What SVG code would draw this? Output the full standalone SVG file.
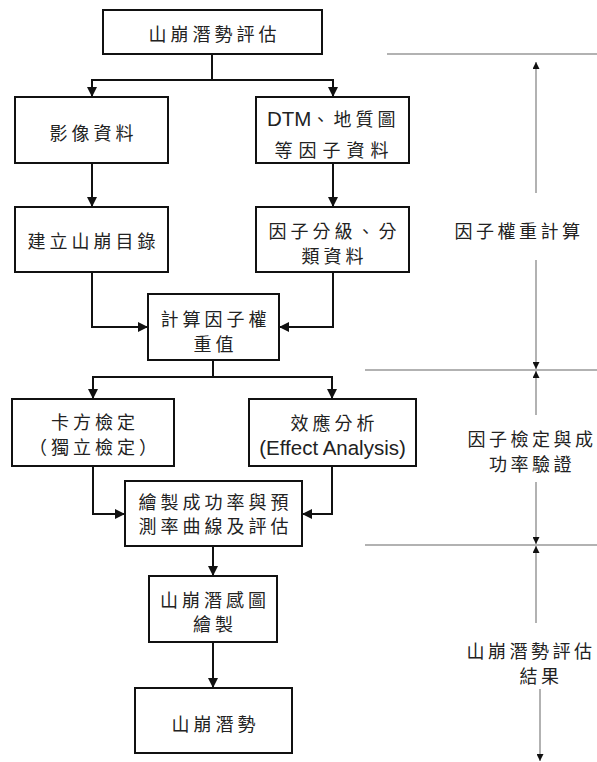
<svg xmlns="http://www.w3.org/2000/svg" width="597" height="762" viewBox="0 0 597 762">
<style>
.box{fill:#fff;stroke:#111;stroke-width:2}
.t{font-family:"Noto Sans CJK TC","Noto Sans CJK SC",sans-serif;font-size:18px;fill:#222;text-anchor:middle;dominant-baseline:central;letter-spacing:4px}
.lat{font-family:"Liberation Sans",Arial,sans-serif;font-size:20.5px;letter-spacing:0}
.c{fill:none;stroke:#111;stroke-width:2}
.g{fill:none;stroke:#999;stroke-width:1.5}
</style>
<defs>
<marker id="a" viewBox="0 0 10 10" refX="10" refY="5" markerWidth="11" markerHeight="10" markerUnits="userSpaceOnUse" orient="auto"><path d="M0 0L10 5L0 10z" fill="#111"/></marker>
<marker id="s" viewBox="0 0 10 10" refX="10" refY="5" markerWidth="9" markerHeight="7" markerUnits="userSpaceOnUse" orient="auto"><path d="M0 0L10 5L0 10z" fill="#111"/></marker>
</defs>
<g id="connectors">
<path class="c" d="M212 54V80H92V97" marker-end="url(#a)"/>
<path class="c" d="M212 80H333V97" marker-end="url(#a)"/>
<path class="c" d="M92 163V207" marker-end="url(#a)"/>
<path class="c" d="M333 163V207" marker-end="url(#a)"/>
<path class="c" d="M92 272V327H148" marker-end="url(#a)"/>
<path class="c" d="M333 272V327H279" marker-end="url(#a)"/>
<path class="c" d="M213 360V377H93V399" marker-end="url(#a)"/>
<path class="c" d="M213 377H332V399" marker-end="url(#a)"/>
<path class="c" d="M93 466V514H125" marker-end="url(#a)"/>
<path class="c" d="M332 466V514H302" marker-end="url(#a)"/>
<path class="c" d="M213 546V576" marker-end="url(#a)"/>
<path class="c" d="M213 642V688" marker-end="url(#a)"/>
</g>
<g id="n1"><rect class="box" x="103" y="10" width="219" height="44"/><text class="t" x="214.5" y="33">山崩潛勢評估</text></g>
<g id="n2"><rect class="box" x="15" y="97" width="153" height="66"/><text class="t" x="93.5" y="132">影像資料</text></g>
<g id="n3"><rect class="box" x="256" y="97" width="153" height="66"/><text class="t" x="267" y="118" style="text-anchor:start"><tspan class="lat">DTM</tspan>、地質圖</text><text class="t" x="334.5" y="149" style="letter-spacing:6px">等因子資料</text></g>
<g id="n4"><rect class="box" x="15" y="207" width="153" height="65"/><text class="t" x="93.5" y="240">建立山崩目錄</text></g>
<g id="n5"><rect class="box" x="256" y="207" width="153" height="65"/><text class="t" x="334.5" y="229.5">因子分級、分</text><text class="t" x="334.5" y="255">類資料</text></g>
<g id="n6"><rect class="box" x="148" y="294" width="131" height="66"/><text class="t" x="215.5" y="318">計算因子權</text><text class="t" x="215.5" y="343">重值</text></g>
<g id="n7"><rect class="box" x="12" y="399" width="162" height="67"/><text class="t" x="95" y="421">卡方檢定</text><text class="t" x="95" y="446">（獨立檢定）</text></g>
<g id="n8"><rect class="box" x="249" y="399" width="167" height="67"/><text class="t" x="334.5" y="422">效應分析</text><text class="t lat" x="332.5" y="447">(Effect Analysis)</text></g>
<g id="n9"><rect class="box" x="125" y="481" width="177" height="65"/><text class="t" x="215.5" y="501">繪製成功率與預</text><text class="t" x="215.5" y="525">測率曲線及評估</text></g>
<g id="n10"><rect class="box" x="149" y="576" width="128" height="66"/><text class="t" x="215" y="599">山崩潛感圖</text><text class="t" x="215" y="623">繪製</text></g>
<g id="n11"><rect class="box" x="135" y="688" width="157" height="65"/><text class="t" x="215.5" y="723">山崩潛勢</text></g>
<g id="stages">
<path class="g" d="M387 54H597M365 370H597M365 545H597"/>
<path class="g" d="M536 193V62" marker-end="url(#s)"/>
<path class="g" d="M536 260V369" marker-end="url(#s)"/>
<path class="g" d="M536 415V371" marker-end="url(#s)"/>
<path class="g" d="M536 482V544" marker-end="url(#s)"/>
<path class="g" d="M536 623V546" marker-end="url(#s)"/>
<path class="g" d="M540 689V761" marker-end="url(#s)"/>
<text class="t" x="519" y="230" style="letter-spacing:3.5px">因子權重計算</text>
<text class="t" x="532" y="438" style="letter-spacing:3.5px">因子檢定與成</text>
<text class="t" x="532" y="463" style="letter-spacing:3.5px">功率驗證</text>
<text class="t" x="531" y="650" style="letter-spacing:3.5px">山崩潛勢評估</text>
<text class="t" x="541" y="675" style="letter-spacing:3.5px">結果</text>
</g>
</svg>
